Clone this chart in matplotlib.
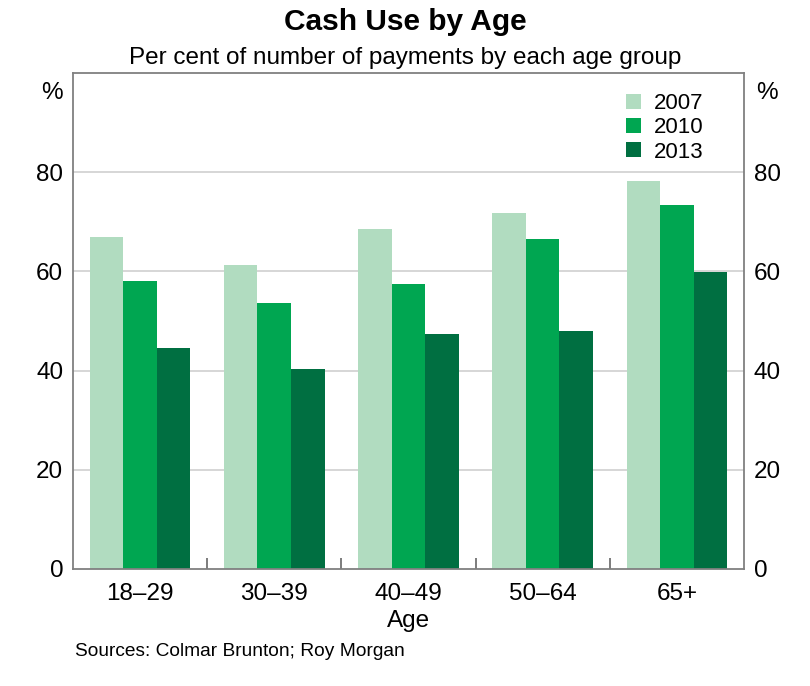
import numpy as np
import matplotlib.pyplot as plt

plt.rcParams['font.family'] = ['Liberation Sans', 'DejaVu Sans']

ages = ["18–29", "30–39", "40–49", "50–64", "65+"]
years = ["2007", "2010", "2013"]
cash_2007 = [67.0, 61.3, 68.5, 71.8, 78.2]
cash_2010 = [58.0, 53.6, 57.5, 66.5, 73.4]
cash_2013 = [44.6, 40.3, 47.4, 48.0, 59.9]
colours = ["#b1dcc0", "#00a651", "#006f41"]

fig = plt.figure(figsize=(8.1, 6.86), dpi=100)
ax = fig.add_axes([0.090, 0.1706, 0.8285, 0.723])

x = np.arange(len(ages))
w = 0.25
for i, (vals, yr) in enumerate(zip([cash_2007, cash_2010, cash_2013], years)):
    ax.bar(x + (i - 1) * w, vals, w, color=colours[i], label=yr, zorder=2)

ax.set_xlim(-0.5, len(ages) - 0.5)
ax.set_ylim(0, 100)
ax.set_yticks([0, 20, 40, 60, 80])
for yv in [20, 40, 60, 80]:
    ax.axhline(yv, color="#d0d0d0", lw=1.2, zorder=1)

ax.set_xticks(x)
ax.set_xticklabels(ages, fontsize=17.5)
ax.tick_params(axis="x", length=0, pad=10)
ax.set_xticks(np.arange(len(ages) - 1) + 0.5, minor=True)
ax.tick_params(axis="x", which="minor", direction="in", length=8, width=1.2, color="#666666")
ax.tick_params(axis="y", length=0, labelsize=17.5, pad=7, labelright=True, right=False)

for s in ax.spines.values():
    s.set_color("#808080")
    s.set_linewidth(1.3)

ax.set_xlabel("Age", fontsize=17.5, labelpad=4)

ax.text(-0.031, 0.96, "%", transform=ax.transAxes, fontsize=17.5, ha="center", va="center")
ax.text(1.034, 0.96, "%", transform=ax.transAxes, fontsize=17.5, ha="center", va="center")

leg = ax.legend(loc="upper right", frameon=False, fontsize=16, handlelength=0.65,
                handleheight=0.65, handletextpad=0.6, labelspacing=0.15,
                bbox_to_anchor=(0.97, 1.0))

fig.text(0.5, 0.968, "Cash Use by Age", ha="center", va="center", fontsize=21.5, fontweight="bold")
fig.text(0.5, 0.915, "Per cent of number of payments by each age group", ha="center",
         va="center", fontsize=17.5)
fig.text(0.093, 0.05, "Sources: Colmar Brunton; Roy Morgan", ha="left", va="center", fontsize=13.8)

fig.savefig("out.png", dpi=100)
